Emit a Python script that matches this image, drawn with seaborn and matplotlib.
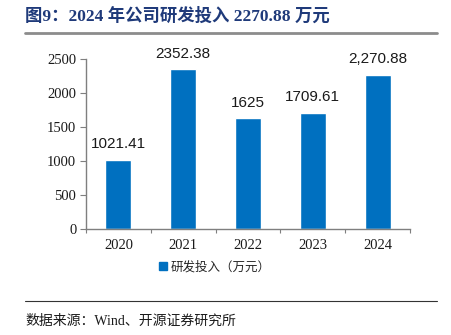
import matplotlib
matplotlib.use("Agg")
import matplotlib.pyplot as plt
from matplotlib.lines import Line2D
from matplotlib.ticker import FixedLocator
import seaborn as sns
import pandas as pd

years = ["2020", "2021", "2022", "2023", "2024"]
rd_spend = [1021.41, 2352.38, 1625, 1709.61, 2270.88]
value_labels = ["1021.41", "2352.38", "1625", "1709.61", "2,270.88"]
series_name = "研发投入（万元）"
title_text = "图9：2024 年公司研发投入 2270.88 万元"
source_text = "数据来源：Wind、开源证券研究所"

sns.set_theme(style="white")
plt.rcParams["font.family"] = ["Liberation Serif", "Noto Sans CJK SC"]

df = pd.DataFrame({"year": years, "value": rd_spend})
bar_color = "#0070C0"

fig = plt.figure(figsize=(4.51, 3.35), dpi=100)
ax = fig.add_axes([86 / 451, 1 - 229 / 335, 324 / 451, 170 / 335])

sns.barplot(data=df, x="year", y="value", color=bar_color, width=0.4,
            saturation=1, ax=ax)

ax.set_xlim(-0.5, 4.5)
ax.set_ylim(0, 2500)
ax.set_yticks([0, 500, 1000, 1500, 2000, 2500])
ax.set_xlabel("")
ax.set_ylabel("")

for s in ["top", "right"]:
    ax.spines[s].set_visible(False)
for s in ["left", "bottom"]:
    ax.spines[s].set_color("#7f7f7f")
    ax.spines[s].set_linewidth(1.0)

ax.tick_params(axis="y", which="major", direction="out", length=4, width=0.8,
               color="#7f7f7f", labelsize=10.5, pad=3, left=True)
ax.tick_params(axis="x", which="major", length=0, labelsize=10.5, pad=7)
ax.xaxis.set_minor_locator(FixedLocator([i - 0.5 for i in range(6)]))
ax.tick_params(axis="x", which="minor", direction="out", length=3, width=0.8,
               color="#7f7f7f", bottom=True)
for lbl in ax.get_xticklabels() + ax.get_yticklabels():
    lbl.set_color("#1a1a1a")

for i, (v, txt) in enumerate(zip(rd_spend, value_labels)):
    ax.annotate(txt, (i, v), xytext=(0, 6), textcoords="offset points",
                ha="center", va="bottom", fontsize=11,
                family=["Liberation Sans", "DejaVu Sans"], color="#1a1a1a")

# Legend below the axis labels
handle = Line2D([], [], marker="s", linestyle="none", markersize=5.5,
                markerfacecolor=bar_color, markeredgecolor=bar_color)
fig.legend([handle], [series_name], loc="center", bbox_to_anchor=(214 / 451, 1 - 267 / 335),
           frameon=False, handletextpad=0.1, handlelength=1.0,
           prop={"family": ["Noto Sans CJK SC"], "size": 9})

# Title and rules
fig.text(25 / 451, 1 - 16 / 335, title_text, ha="left", va="center",
         fontsize=12.5, fontweight="bold", color="#1F3A7A",
         family=["Liberation Serif", "Noto Sans CJK SC"])
fig.add_artist(Line2D([25 / 451, 437 / 451], [1 - 32.5 / 335, 1 - 32.5 / 335],
                      color="#8c8c8c", linewidth=2.0))
fig.add_artist(Line2D([25 / 451, 437 / 451], [1 - 301 / 335, 1 - 301 / 335],
                      color="#333333", linewidth=0.8))
fig.text(25 / 451, 1 - 321 / 335, source_text, ha="left", va="center",
         fontsize=10, color="#1a1a1a",
         family=["Liberation Serif", "Noto Sans CJK SC"])

fig.savefig("out.png", dpi=100, facecolor="white")
